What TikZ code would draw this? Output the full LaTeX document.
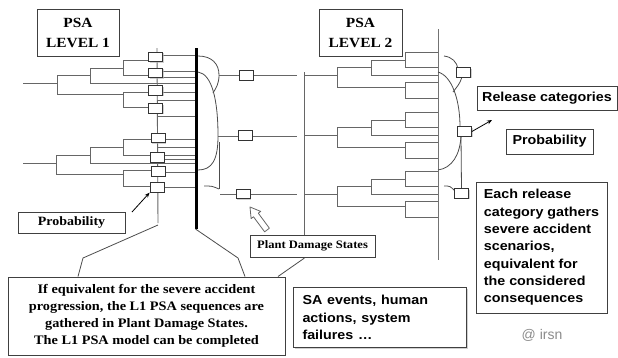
\documentclass[tikz,border=0pt]{standalone}
\usepackage{fontspec}
\setmainfont{Liberation Serif}
\newfontfamily\sansf{Liberation Sans}
\usepackage{graphicx}
\usetikzlibrary{arrows.meta,shadows}
\newcommand{\sx}[1]{\scalebox{1.1}[1]{#1}}
\begin{document}
\begin{tikzpicture}[x=1pt,y=-1pt,
  tl/.style={draw=black!60, line width=0.9pt},
  br/.style={draw=black!70, line width=0.8pt},
  shd/.style={drop shadow={shadow xshift=1.2pt, shadow yshift=-1.2pt, fill=black!30, opacity=0.6}},
  pbox/.style={draw=black!80, fill=white, line width=0.8pt, minimum width=14pt, minimum height=9.5pt, inner sep=0pt, shd},
  tbox/.style={draw=black!75, line width=1pt, fill=white, inner sep=0pt, shd},
  serifbig/.style={font=\bfseries\fontsize{13}{17}\selectfont, align=center},
  sanst/.style={font=\sansf\bfseries\fontsize{13}{17.3}\selectfont},
  arr/.style={-{Stealth[length=5pt,width=4pt]}, line width=0.8pt, black}
]
\fill[white] (0,0) rectangle (618,357);
\useasboundingbox (0,0) rectangle (618,357);

% ---------- PSA level 1 event trees ----------
\draw[tl] (157,48) -- (158,223);
\draw[tl]
 (23,83) -- (57,83) (57,75) -- (57,94)
 (57,75) -- (90,75) (90,68) -- (90,83) (90,83) -- (195,83)
 (90,68) -- (123,68) (123,60) -- (123,75)
 (123,60) -- (157,60) (157,55) -- (195,55)
 (123,75) -- (157,75) (157,71) -- (195,71) (157,77) -- (195,77)
 (57,94) -- (123,94) (123,92) -- (123,107)
 (123,92) -- (157,92) (157,92) -- (195,92) (157,100) -- (195,100)
 (123,107) -- (157,107) (157,116) -- (195,116);
\draw[tl]
 (23,163) -- (56,163) (56,155) -- (56,174)
 (56,155) -- (90,155) (90,147) -- (90,163) (90,163) -- (195,163)
 (90,147) -- (123,147) (123,139) -- (123,155)
 (123,139) -- (158,139) (158,139) -- (195,139) (158,147) -- (195,147)
 (123,155) -- (157,155) (157,155) -- (195,155) (157,159) -- (195,159)
 (56,174) -- (123,174) (123,170) -- (123,186)
 (123,170) -- (158,170) (158,172) -- (195,172)
 (123,186) -- (157,186) (157,187) -- (195,187);
\node[pbox] (p1) at (155.5,57) {};
\node[pbox] (p2) at (155.5,73) {};
\node[pbox] (p3) at (155.5,90.5) {};
\node[pbox] (p4) at (155.5,108.5) {};
\node[pbox] (p5) at (158,138) {};
\node[pbox] (p6) at (157,157.5) {};
\node[pbox] (p7) at (158,171.5) {};
\node[pbox] (p8) at (157,187.5) {};
\draw[line width=2.6pt] (196.5,48) -- (196.5,229);

% ---------- grouping brackets into PDS ----------
\draw[br] (198,56) .. controls (212,56) and (219,64) .. (219,75)
          .. controls (219,84) and (216,88) .. (213,93);
\draw[br] (198,72) .. controls (212,74) and (218,100) .. (218,136)
          .. controls (218,160) and (212,170) .. (198,170);
\draw[br] (219,142) -- (219,189);
\draw[br] (204,186) .. controls (212,186) .. (219,189);
\draw[tl] (219,75.5) -- (297,75.5) (218,136) -- (297,136) (220,194) -- (297,194);
\node[pbox] (d1) at (246,75.5) {};
\node[pbox] (d2) at (245,135.5) {};
\node[pbox] (d3) at (243,194) {};

% ---------- PSA level 2 event trees ----------
\draw[tl] (304,72) -- (304,258);
\draw[draw=black!55, line width=0.8pt] (438,29) -- (438,260);
\foreach \y in {75,135,194}{
 \draw[tl] (304,\y) -- (337,\y) (337,\y-8) -- (337,\y+12)
  (337,\y-8) -- (371,\y-8) (371,\y-15) -- (371,\y)
  (371,\y-15) -- (405,\y-15) (405,\y-23) -- (405,\y-8)
  (405,\y-23) -- (438,\y-23) (405,\y-8) -- (438,\y-8)
  (371,\y) -- (438,\y)
  (337,\y+12) -- (405,\y+12) (405,\y+7) -- (405,\y+23)
  (405,\y+7) -- (438,\y+7) (405,\y+23) -- (438,\y+23);
}
% release-category brackets
\draw[br] (444,56) .. controls (452,57) and (457,62) .. (458,69);
\draw[br] (462,77) .. controls (460,84) and (456,88) .. (453,92);
\draw[br] (438,72) .. controls (452,76) and (460,100) .. (460,127);
\draw[br] (461,136) .. controls (460,155) and (452,168) .. (438,170);
\draw[br] (461,136) -- (461.5,189);
\draw[br] (444,186) .. controls (450,186) .. (455,191);
\node[pbox] (r1) at (463.5,72.5) {};
\node[pbox] (r2) at (464.5,131.5) {};
\node[pbox] (r3) at (461.5,193.5) {};

% ---------- text boxes ----------
\node[tbox, minimum width=82pt, minimum height=47pt, font=\bfseries\fontsize{14}{20}\selectfont, align=center]
  (t1) at (78,32.5) {\sx{PSA}\\\sx{LEVEL 1}};
\node[tbox, minimum width=83pt, minimum height=47pt, font=\bfseries\fontsize{14}{20}\selectfont, align=center]
  (t2) at (360.5,32.5) {\sx{PSA}\\\sx{LEVEL 2}};
\node[tbox, minimum width=107pt, minimum height=21pt, font=\bfseries\fontsize{12.7}{15}\selectfont]
  (prob1) at (71.5,222.5) {\sx{Probability}};
\node[tbox, minimum width=125pt, minimum height=22pt, font=\bfseries\fontsize{11.4}{14}\selectfont]
  (pds) at (312.5,246) {\sx{Plant Damage States}};
\node[tbox, minimum width=140pt, minimum height=24pt, sanst]
  (rc) at (547,98) {\sx{Release categories}};
\node[tbox, minimum width=87pt, minimum height=25pt, sanst]
  (prob2) at (549.5,141.5) {\sx{Probability}};
\node[tbox, minimum width=131pt, minimum height=131pt, sanst, align=left]
  (each) at (541.5,247.5) {\sx{Each release}\\\sx{category gathers}\\\sx{severe accident}\\\sx{scenarios,}\\\sx{equivalent for}\\\sx{the considered}\\\sx{consequences}};
\node[tbox, anchor=north west, text width=155pt, inner xsep=9pt, minimum height=60pt, sanst, align=left]
  (sa) at (293,287) {\sx{SA events, human}\\\sx{actions, system}\\\sx{failures …}};
\node[tbox, minimum width=277pt, minimum height=78pt, serifbig]
  (big) at (146.5,316) {\sx{If equivalent for the severe accident}\\\sx{progression, the L1 PSA sequences are}\\\sx{gathered in Plant Damage States.}\\\sx{The L1 PSA model can be completed}};
\node[text=black!45, font=\sansf\fontsize{14}{16}\selectfont] (irsn) at (542,335) {@ irsn};

% ---------- callout lines ----------
\coordinate (cl1) at (83,258);
\coordinate (cl2) at (158,225);
\coordinate (cr1) at (238,258);
\coordinate (cr2) at (195.5,229);
\coordinate (c3) at (304.5,258);
\draw[br] (big.north west -| 78,0) -- (cl1) -- (cl2);
\draw[br] (big.north west -| 245,0) -- (cr1) -- (cr2);
\draw[br] (big.north east -| 278,0) -- (c3);

% ---------- arrows ----------
\coordinate (pa) at (132,212);
\draw[arr] (pa) -- (p8.south west);
\draw[arr] (r2.east) -- (492,120);
\draw[draw=black!60, fill=white, line width=0.8pt, line join=round]
  (269.4,228.2) -- (258.3,213.2) -- (260.7,211.4) -- (250,207) -- (251.1,218.6) -- (253.5,216.8) -- (264.6,231.8) -- cycle;
\end{tikzpicture}
\end{document}
